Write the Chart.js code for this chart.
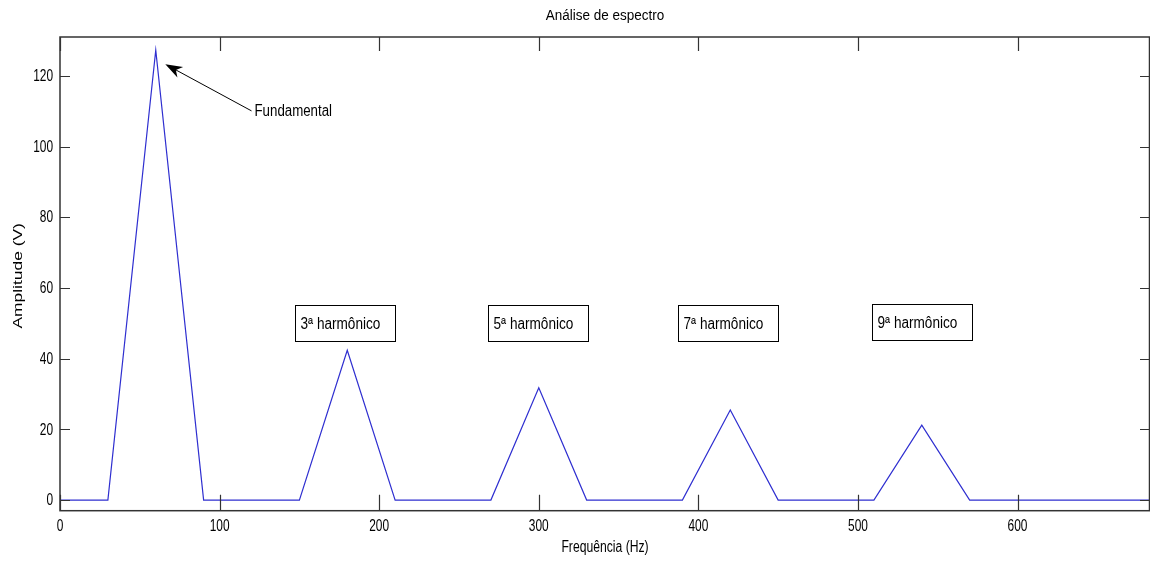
<!DOCTYPE html>
<html>
<head>
<meta charset="utf-8">
<script src="https://cdn.jsdelivr.net/npm/chart.js@4.4.1/dist/chart.umd.min.js"></script>
<style>
  html, body { margin: 0; padding: 0; background: #fff; }
  #wrap { width: 1150px; height: 561px; }
</style>
</head>
<body>
<div id="wrap"><canvas id="chart" width="1150" height="561"></canvas></div>
<script>
// dados
const freq = [0, 30, 60, 90, 150, 180, 210, 270, 300, 330, 390, 420, 450, 510, 540, 570, 683];
const amplitude = [0, 0, 127.3, 0, 0, 42.4, 0, 0, 31.8, 0, 0, 25.5, 0, 0, 21.2, 0, 0];
const xTicks = [0, 100, 200, 300, 400, 500, 600];
const yTicks = [0, 20, 40, 60, 80, 100, 120];

const titleText = 'Análise de espectro';
const xLabel = 'Frequência (Hz)';
const yLabel = 'Amplitude (V)';

// caixas de texto (coordenadas de dados: canto esquerdo, meio)
const boxLabels = ['3ª harmônico', '5ª harmônico', '7ª harmônico', '9ª harmônico'];
const boxX = [147, 268, 387, 509];
const boxY = [50.2, 50.1, 50, 50.4];

// seta "Fundamental"
const arrowTip = { x: 66, y: 123.3 };
const arrowTail = { x: 120, y: 110.1 };
const arrowText = 'Fundamental';

const FONT = "'Liberation Sans', Arial, sans-serif";
const AXIS_COLOR = '#333333';

// texto comprimido na horizontal (a figura original foi esticada)
function drawText(ctx, txt, x, y, size, sx, align, baseline, rot) {
  ctx.save();
  ctx.translate(x, y);
  if (rot) ctx.rotate(rot);
  ctx.scale(sx, 1);
  ctx.font = size + 'px ' + FONT;
  ctx.textAlign = align;
  ctx.textBaseline = baseline;
  ctx.fillStyle = '#000000';
  ctx.fillText(txt, 0, 0);
  const w = ctx.measureText(txt).width * sx;
  ctx.restore();
  return w;
}

const matlabBox = {
  id: 'matlabBox',
  beforeDraw(chart) {
    const ctx = chart.ctx;
    ctx.save();
    ctx.fillStyle = '#ffffff';
    ctx.fillRect(0, 0, chart.width, chart.height);
    ctx.restore();
  },
  afterDatasetsDraw(chart) {
    const { ctx, chartArea: a, scales: { x, y } } = chart;
    ctx.save();
    ctx.strokeStyle = AXIS_COLOR;
    ctx.lineWidth = 1.5;
    ctx.strokeRect(a.left, a.top, a.right - a.left - 0.5, a.bottom - a.top);

    // marcas para dentro, nos quatro lados
    ctx.lineWidth = 1.2;
    ctx.beginPath();
    xTicks.forEach(v => {
      const px = Math.round(x.getPixelForValue(v)) + 0.5;
      ctx.moveTo(px, a.bottom); ctx.lineTo(px, a.bottom - 16);
      ctx.moveTo(px, a.top); ctx.lineTo(px, a.top + 14);
    });
    yTicks.forEach(v => {
      const py = Math.round(y.getPixelForValue(v)) + 0.5;
      ctx.moveTo(a.left, py); ctx.lineTo(a.left + 10, py);
      ctx.moveTo(a.right, py); ctx.lineTo(a.right - 10, py);
    });
    ctx.stroke();

    // rotulos das marcas
    xTicks.forEach(v => {
      drawText(ctx, String(v), x.getPixelForValue(v), a.bottom + 15.5, 17, 0.7, 'center', 'middle');
    });
    yTicks.forEach(v => {
      drawText(ctx, String(v), a.left - 7, y.getPixelForValue(v) + 0.5, 17, 0.7, 'right', 'middle');
    });

    // titulos
    const cx = (a.left + a.right) / 2;
    drawText(ctx, titleText, cx, 16, 15.5, 0.87, 'center', 'middle');
    drawText(ctx, xLabel, cx, 548, 16, 0.76, 'center', 'middle');
    drawText(ctx, yLabel, 18.5, (a.top + a.bottom) / 2 + 2, 12, 1.45, 'center', 'middle', -Math.PI / 2);

    // caixas dos harmonicos
    boxLabels.forEach((txt, i) => {
      const bx = Math.round(x.getPixelForValue(boxX[i])) + 0.5;
      const by = Math.round(y.getPixelForValue(boxY[i]) - 18) + 0.5;
      ctx.fillStyle = '#ffffff';
      ctx.fillRect(bx, by, 100, 36);
      ctx.strokeStyle = '#000000';
      ctx.lineWidth = 1;
      ctx.strokeRect(bx, by, 100, 36);
      drawText(ctx, txt, bx + 5, by + 19, 16, 0.85, 'left', 'middle');
    });

    // seta
    const tx = x.getPixelForValue(arrowTip.x), ty = y.getPixelForValue(arrowTip.y);
    const sx = x.getPixelForValue(arrowTail.x), sy = y.getPixelForValue(arrowTail.y);
    const ang = Math.atan2(ty - sy, tx - sx);
    const c = Math.cos(ang), s = Math.sin(ang);
    ctx.strokeStyle = '#000000';
    ctx.lineWidth = 1;
    ctx.beginPath();
    ctx.moveTo(sx, sy);
    ctx.lineTo(tx - 10 * c, ty - 10 * s);
    ctx.stroke();
    ctx.fillStyle = '#000000';
    ctx.beginPath();
    ctx.moveTo(tx, ty);
    ctx.lineTo(tx - 17 * c + 6 * s, ty - 17 * s - 6 * c);
    ctx.lineTo(tx - 12 * c, ty - 12 * s);
    ctx.lineTo(tx - 17 * c - 6 * s, ty - 17 * s + 6 * c);
    ctx.closePath();
    ctx.fill();
    drawText(ctx, arrowText, sx + 3, sy + 1, 16, 0.83, 'left', 'middle');
    ctx.restore();
  }
};

new Chart(document.getElementById('chart').getContext('2d'), {
  type: 'line',
  data: {
    datasets: [{
      label: 'Espectro',
      data: freq.map((f, i) => ({ x: f, y: amplitude[i] })),
      borderColor: '#2f2fd0',
      borderWidth: 1.2,
      pointRadius: 0,
      tension: 0,
      fill: false
    }]
  },
  options: {
    responsive: false,
    animation: false,
    layout: { padding: { left: 0, right: 0, top: 37, bottom: 0 } },
    plugins: {
      legend: { display: false },
      tooltip: { enabled: false },
      title: { display: false }
    },
    scales: {
      x: {
        type: 'linear',
        min: 0,
        max: 683,
        afterBuildTicks: s => { s.ticks = xTicks.map(v => ({ value: v })); },
        afterFit: s => { s.height = 50.3; },
        grid: { display: false, drawTicks: false },
        border: { display: false },
        ticks: { display: false }
      },
      y: {
        type: 'linear',
        min: -3,
        max: 131,
        afterBuildTicks: s => { s.ticks = yTicks.map(v => ({ value: v })); },
        afterFit: s => { s.width = 60; },
        grid: { display: false, drawTicks: false },
        border: { display: false },
        ticks: { display: false }
      }
    }
  },
  plugins: [matlabBox]
});
</script>
</body>
</html>
